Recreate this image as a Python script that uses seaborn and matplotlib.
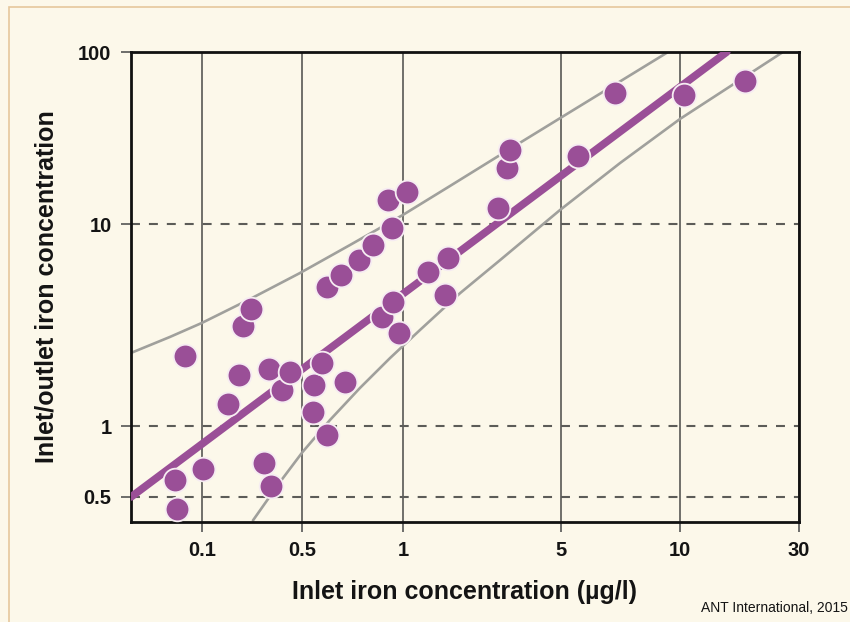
import numpy as np
import matplotlib
matplotlib.use("Agg")
import matplotlib.pyplot as plt
from matplotlib.patches import Rectangle
import seaborn as sns

# measured points (inlet conc in ug/l, inlet/outlet ratio)
inlet = [0.067, 0.065, 0.076, 0.102, 0.152, 0.181, 0.193, 0.220, 0.271, 0.304,
         0.294, 0.362, 0.412, 0.539, 0.543, 0.574, 0.594, 0.594, 0.653, 0.672,
         0.739, 0.814, 0.866, 0.902, 0.927, 0.934, 0.973, 1.04, 1.29, 1.53,
         1.58, 2.63, 2.89, 2.98, 5.52, 6.85, 10.4, 18.2]
ratio = [0.445, 0.59, 2.22, 0.657, 1.29, 1.79, 3.13, 3.80, 0.697, 0.557,
         1.92, 1.51, 1.85, 1.17, 1.60, 2.05, 0.916, 4.88, 5.59, 1.65,
         6.63, 7.87, 3.46, 13.8, 9.55, 4.11, 2.89, 15.4, 5.79, 4.45,
         6.79, 12.4, 21.2, 26.9, 24.9, 57.8, 56.2, 67.8]

# regression line end points
fit_x = [0.032, 15.4]
fit_y = [0.5, 100]

# upper / lower band
upper_x = [0.032, 0.0598, 0.1, 0.2165, 0.484, 0.695, 1.0, 1.61, 2.69, 5.03, 9.33]
upper_y = [2.30, 2.76, 3.24, 4.25, 5.72, 7.87, 11.3, 16.6, 25.2, 41.9, 100]
lower_x = [0.227, 0.351, 0.502, 0.606, 0.744, 0.915, 1.19, 1.79, 2.69, 4.95, 7.05, 10.0, 25.6]
lower_y = [0.396, 0.579, 0.776, 1.071, 1.542, 2.17, 2.99, 4.55, 6.63, 12.06, 22.6, 40.8, 99.0]

x_ticks = [0.1, 0.5, 1, 5, 10, 30]
x_labels = ["0.1", "0.5", "1", "5", "10", "30"]
y_ticks = [0.5, 1, 10, 100]
y_labels = ["0.5", "1", "10", "100"]

# the original axes are not evenly spaced per decade, so use a piecewise log scale
x_knots = [0.032, 0.1, 0.5, 1, 5, 10, 30]
x_pos = [0, 71, 171, 272, 430, 549, 668]
y_knots = [0.39, 0.5, 1, 10, 100]
y_pos = [0, 25, 96, 298, 470]


def make_scale(knots, pos):
    lk = np.log10(knots)

    def fwd(v):
        v = np.asarray(v, dtype=float)
        with np.errstate(divide="ignore", invalid="ignore"):
            return np.interp(np.log10(v), lk, pos)

    def inv(p):
        return 10 ** np.interp(np.asarray(p, dtype=float), pos, lk)
    return fwd, inv


BG = "#fcf8ea"
PURPLE = "#9a4f97"
GREY = "#a0a09c"
INK = "#141414"

sns.set_style("white", {"axes.facecolor": BG, "figure.facecolor": BG})
plt.rcParams["font.family"] = ["Liberation Sans Narrow", "Liberation Sans", "DejaVu Sans"]

fig = plt.figure(figsize=(8.5, 6.22), dpi=100)
ax = fig.add_axes([131 / 850, 100 / 622, 668 / 850, 470 / 622])

ax.set_xscale("function", functions=make_scale(x_knots, x_pos))
ax.set_yscale("function", functions=make_scale(y_knots, y_pos))

sns.lineplot(x=upper_x, y=upper_y, sort=False, estimator=None, color=GREY, lw=1.9, ax=ax, zorder=2)
sns.lineplot(x=lower_x, y=lower_y, sort=False, estimator=None, color=GREY, lw=1.9, ax=ax, zorder=2)
sns.lineplot(x=fit_x, y=fit_y, sort=False, estimator=None, color=PURPLE, lw=5.5, ax=ax, zorder=3)
sns.scatterplot(x=inlet, y=ratio, s=290, color=PURPLE, edgecolor="#f6ecf2", linewidth=1.3,
                ax=ax, zorder=4)

ax.set_xlim(0.032, 30)
ax.set_ylim(0.39, 100)
ax.set_xticks(x_ticks)
ax.set_xticklabels(x_labels)
ax.set_yticks(y_ticks)
ax.set_yticklabels(y_labels)
ax.minorticks_off()

ax.xaxis.grid(True, color="#4a4a48", lw=1.1, ls="-")
ax.yaxis.grid(True, color="#5c5c58", lw=1.5, ls=(0, (4.3, 4.3)))
ax.set_axisbelow(True)

for s in ax.spines.values():
    s.set_color("#111111")
    s.set_linewidth(2.0)

ax.tick_params(axis="both", direction="out", length=7, width=1.2, color="#555555",
               labelsize=14.5, labelcolor=INK, pad=7, bottom=True, left=True)
for lab in ax.get_xticklabels() + ax.get_yticklabels():
    lab.set_fontweight("bold")

ax.set_xlabel("Inlet iron concentration (µg/l)", fontsize=18, fontweight="bold",
              color=INK, labelpad=14)
ax.set_ylabel("Inlet/outlet iron concentration", fontsize=18, fontweight="bold",
              color=INK, labelpad=14)

fig.text(0.997, 0.012, "ANT International, 2015", ha="right", va="bottom", fontsize=10, color=INK)

# thin frame around the figure
fig.patches.append(Rectangle((9 / 850, -0.05), 1.0, 1.05 - 7 / 622, transform=fig.transFigure,
                             fill=False, edgecolor="#e6c79c", lw=1.2))

fig.savefig("out.png", dpi=100, facecolor=BG)
